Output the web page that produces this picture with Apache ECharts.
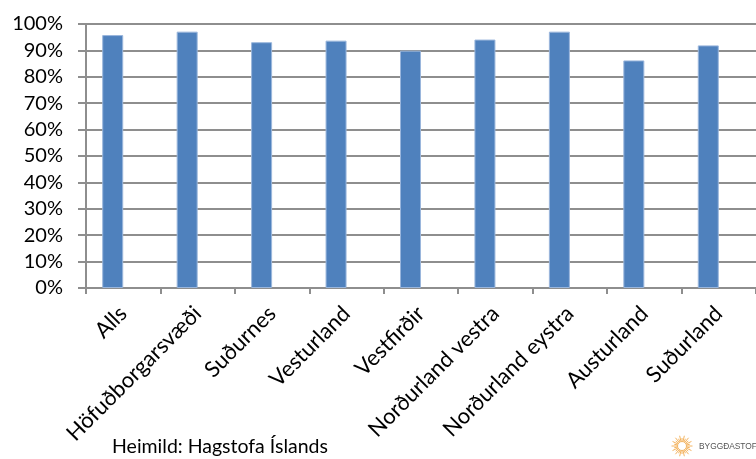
<!DOCTYPE html>
<html>
<head>
<meta charset="utf-8">
<script src="https://cdn.jsdelivr.net/npm/echarts@6/dist/echarts.min.js"></script>
<style>
html,body{margin:0;padding:0;background:#fff;}
#chart{width:756px;height:459px;}
</style>
</head>
<body>
<div id="chart"></div>
<script>
const categories = ['Alls', 'Höfuðborgarsvæði', 'Suðurnes', 'Vesturland', 'Vestfirðir', 'Norðurland vestra', 'Norðurland eystra', 'Austurland', 'Suðurland'];
const shareValues = [0.958, 0.971, 0.931, 0.937, 0.899, 0.941, 0.971, 0.862, 0.919];
const emptySeriesValues = [];
const yTickValues = [0, 0.1, 0.2, 0.3, 0.4, 0.5, 0.6, 0.7, 0.8, 0.9, 1.0];
const sourceText = 'Heimild: Hagstofa Íslands';
const logoText = 'BYGGÐASTOFNUN';

const FONT = 'Lato, "Open Sans", sans-serif';
const GRID_COLOR = '#8e8e8e';

const chart = echarts.init(document.getElementById('chart'), null, {renderer: 'canvas'});

// sunburst logo decoration
const logoCx = 682, logoCy = 446;
const rays = [];
for (let i = 0; i < 28; i++) {
  const a = i * Math.PI * 2 / 28;
  const r1 = 4.5, r2 = (i % 2 === 0) ? 10.5 : 8;
  rays.push({
    type: 'line',
    shape: {x1: logoCx + r1 * Math.cos(a), y1: logoCy + r1 * Math.sin(a), x2: logoCx + r2 * Math.cos(a), y2: logoCy + r2 * Math.sin(a)},
    style: {stroke: '#f4b460', lineWidth: 1},
    silent: true
  });
}

chart.setOption({
  animation: false,
  backgroundColor: '#ffffff',
  grid: {left: 86, top: 24, width: 675, height: 264, containLabel: false},
  xAxis: {
    type: 'category',
    data: categories,
    boundaryGap: true,
    axisLine: {show: true, lineStyle: {color: GRID_COLOR, width: 2}},
    axisTick: {show: true, length: 6, alignWithLabel: false, lineStyle: {color: GRID_COLOR, width: 2}},
    axisLabel: {
      interval: 0,
      rotate: 45,
      margin: 22,
      fontFamily: FONT,
      fontSize: 22,
      color: '#000'
    }
  },
  yAxis: {
    type: 'value',
    min: yTickValues[0],
    max: yTickValues[yTickValues.length - 1],
    interval: 0.1,
    axisLine: {show: true, lineStyle: {color: GRID_COLOR, width: 2}},
    axisTick: {show: true, length: 8, lineStyle: {color: GRID_COLOR, width: 2}},
    splitLine: {show: true, lineStyle: {color: GRID_COLOR, width: 2}},
    axisLabel: {
      margin: 23,
      fontFamily: FONT,
      fontSize: 20,
      color: '#000',
      formatter: v => Math.round(v * 100) + '%'
    }
  },
  series: [
    {
      type: 'bar',
      data: shareValues,
      barWidth: 21,
      barGap: '0%',
      itemStyle: {color: '#4f81bd', borderColor: '#9ab6dc', borderWidth: 1}
    },
    {
      type: 'bar',
      data: emptySeriesValues,
      barWidth: 21,
      barGap: '0%',
      itemStyle: {color: '#c0504d'}
    }
  ],
  graphic: [
    {
      type: 'text',
      left: 112,
      top: 437,
      style: {text: sourceText, font: '19.5px ' + FONT, fill: '#000'}
    },
    {
      type: 'group',
      children: rays.concat([
        {type: 'circle', shape: {cx: logoCx, cy: logoCy, r: 4.5}, style: {fill: '#fff', stroke: '#f4b460', lineWidth: 1}, silent: true}
      ])
    },
    {
      type: 'text',
      x: 699,
      y: 441,
      scaleX: 0.88,
      style: {text: logoText, font: '9.5px "Liberation Sans", sans-serif', fill: '#555'}
    }
  ]
});
</script>
</body>
</html>
